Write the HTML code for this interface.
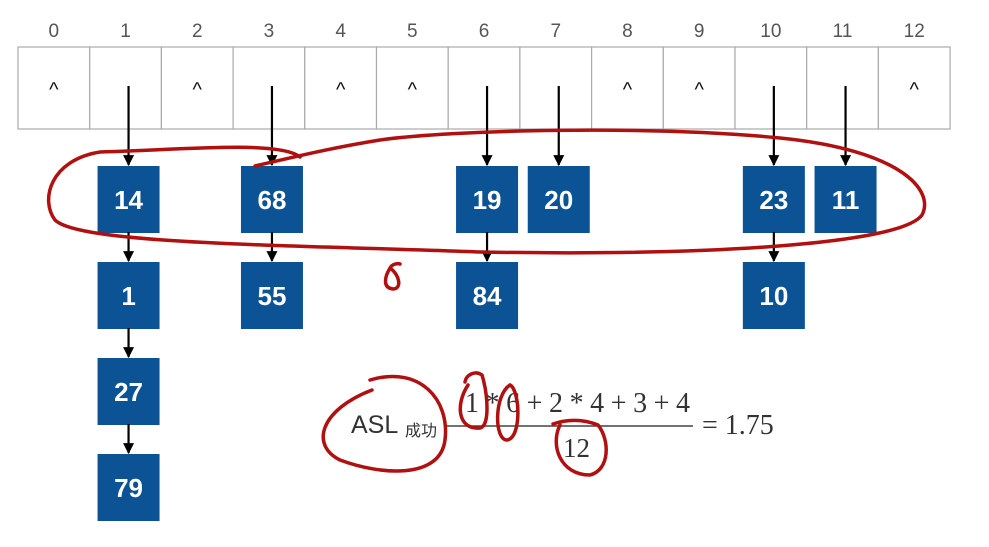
<!DOCTYPE html>
<html><head><meta charset="utf-8"><style>
html,body{margin:0;padding:0;background:#fff;}
svg{display:block}
</style></head><body>
<svg id="c" width="989" height="547" viewBox="0 0 989 547" font-family="Liberation Sans, sans-serif">
<defs><marker id="ah" viewBox="0 0 10 10" refX="9" refY="5" markerWidth="5" markerHeight="5" orient="auto"><path d="M0,0 L10,5 L0,10z" fill="#000"/></marker></defs>
<g id="table"></g>
<g id="chains"></g>
<g>
<text x="351" y="433" font-size="25" fill="#333">ASL</text>
<text x="405" y="436" font-size="16" fill="#333" font-family="Liberation Sans, Noto Sans CJK SC, sans-serif">成功</text>
<line x1="446" y1="426" x2="693" y2="426" stroke="#444" stroke-width="1.5"/>
<text x="465" y="412" font-size="28" fill="#333" font-family="Liberation Serif, serif" textLength="225">1 * 6 + 2 * 4 + 3 + 4</text>
<text x="563" y="457" font-size="27" fill="#333" font-family="Liberation Serif, serif">12</text>
<text x="702" y="434" font-size="28" fill="#333" font-family="Liberation Serif, serif">= 1.75</text>
</g>
<g fill="none" stroke="#b01010" stroke-width="3.5" stroke-linecap="round">
<path d="M300,157 C280,140 180,150 100,152 C50,160 40,200 55,220 C80,245 300,245 480,252 C700,256 900,245 922,215 C935,190 900,150 780,138 C650,125 450,130 380,140 C330,148 290,158 255,166"/>
<path d="M390,268 C384,278 383,288 393,289 C402,289 400,275 390,268 C392,264 398,263 400,264"/>
<path d="M370,380 C420,365 450,400 445,440 C440,480 380,475 340,460 C310,445 320,410 372,390"/>
<path d="M468,385 C455,405 458,430 480,428 C490,426 488,395 482,375 C475,370 466,375 465,382"/>
<path d="M510,385 C494,395 494,440 507,440 C522,438 520,390 510,385"/>
<path d="M560,425 C550,445 560,475 590,475 C610,470 610,440 598,425 C580,418 565,420 553,424"/>
</g>
</svg>
<script>
const indices = ["0","1","2","3","4","5","6","7","8","9","10","11","12"];
const chainCols = [1, 3, 6, 7, 10, 11];
const chainKeys = [[14,1,27,79],[68,55],[19,84],[20],[23,10],[11]];
const ns = "http://www.w3.org/2000/svg";
const X0 = 18, CW = 71.7, TY = 47, TH = 82;
const colX = i => X0 + CW * i;
const colC = i => X0 + CW * (i + 0.5);
const nodeC = i => colC(i) + 3;
const rowY = r => 166 + r * 96;
function mk(tag, attrs, parent, txt){const e=document.createElementNS(ns,tag);for(const k in attrs)e.setAttribute(k,attrs[k]);if(txt!==undefined)e.textContent=txt;parent.appendChild(e);return e;}
const table = document.getElementById('table');
const chains = document.getElementById('chains');
indices.forEach((lab,i)=>{
  const t = mk('text',{x:colC(i),y:37,'text-anchor':'middle','font-size':19,fill:'#555'},table,lab);
  
  
  const r = mk('rect',{x:colX(i),y:TY,width:CW,height:TH,fill:'#fff',stroke:'#aaa','stroke-width':1.2},table);
  
  
  if(!chainCols.includes(i)){
    const n = mk('text',{x:colC(i),y:96,'text-anchor':'middle','font-size':20,fill:'#111'},table,'^');
    
    
  }
});
chainCols.forEach((col,ci)=>{
  const cx = nodeC(col);
  mk('line',{x1:cx,y1:86,x2:cx,y2:rowY(0)-1,stroke:'#000','stroke-width':2.2,'marker-end':'url(#ah)'},chains);
  chainKeys[ci].forEach((k,r)=>{
    const y = rowY(r);
    if(r>0) mk('line',{x1:cx,y1:rowY(r-1)+66,x2:cx,y2:y-1,stroke:'#000','stroke-width':2.2,'marker-end':'url(#ah)'},chains);
    const b = mk('rect',{x:cx-31,y:y,width:62,height:67,fill:'#0b5394'},chains);
    
    
    const t = mk('text',{x:cx,y:y+43,'text-anchor':'middle','font-size':26,'font-weight':'bold',fill:'#fff'},chains,String(k));
    
    
  });
});
</script>
</body></html>
